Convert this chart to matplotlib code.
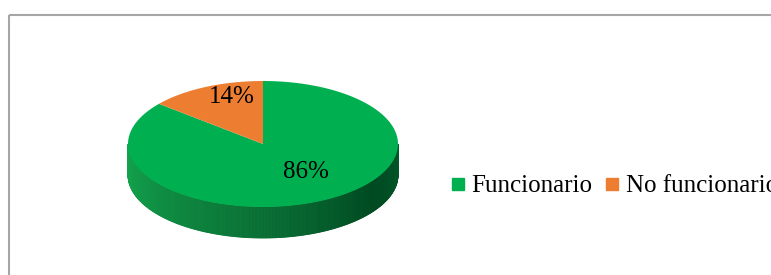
import matplotlib
matplotlib.use('Agg')
import matplotlib.pyplot as plt
from matplotlib.patches import Polygon, Rectangle
from matplotlib.lines import Line2D
import numpy as np

categories = ['Funcionario', 'No funcionario']
values = [86, 14]
pct_labels = ['86%', '14%']

top_colors = ['#00b050', '#ed7d31']
side_light = ['#14a54e', '#d86a20']
side_dark = ['#004a22', '#8a3a0a']

plt.rcParams['font.family'] = ['Liberation Serif', 'DejaVu Serif']

W, H = 771, 275
fig = plt.figure(figsize=(W / 100, H / 100), dpi=100)
ax = fig.add_axes([0, 0, 1, 1])
ax.set_xlim(0, W)
ax.set_ylim(H, 0)
ax.axis('off')

# chart border (right and bottom edges fall outside the picture)
ax.add_patch(Rectangle((8.5, 14.5), 900, 400, fill=False, ec='#a6a6a6', lw=1.5))

# pie geometry in pixels
cx, cy, a, b, depth = 263, 144, 135, 63, 31

fracs = np.array(values, dtype=float) / sum(values)
# slices go clockwise from 12 o'clock
starts = 90 - 360 * np.concatenate([[0], np.cumsum(fracs)[:-1]])
ends = starts - 360 * fracs


def pt(theta, dy=0):
    t = np.radians(theta)
    return cx + a * np.cos(t), cy - b * np.sin(t) + dy


def slice_of(theta):
    for i, (s, e) in enumerate(zip(starts, ends)):
        th = theta
        while th > s:
            th -= 360
        while th <= s - 360:
            th += 360
        if th >= e:
            return i
    return 0


def mix(c1, c2, t):
    c1 = np.array(matplotlib.colors.to_rgb(c1))
    c2 = np.array(matplotlib.colors.to_rgb(c2))
    return tuple(c1 + (c2 - c1) * t)


# front side of the disc
n = 360
ths = np.linspace(180, 360, n + 1)
for t0, t1 in zip(ths[:-1], ths[1:]):
    i = slice_of((t0 + t1) / 2)
    u = (t0 + 0.5 * (t1 - t0) - 180) / 180
    shade = min(1.0, u / 0.8) if u < 0.8 else 1.0 - (u - 0.8) * 0.6
    col = mix(side_light[i], side_dark[i], shade ** 1.1)
    p = [pt(t0), pt(t1), pt(t1, depth), pt(t0, depth)]
    ax.add_patch(Polygon(p, closed=True, fc=col, ec=col, lw=0.6))

# top face
for i, (s, e) in enumerate(zip(starts, ends)):
    th = np.linspace(s, e, 200)
    pts = [(cx, cy)] + [pt(t) for t in th]
    ax.add_patch(Polygon(pts, closed=True, fc=top_colors[i], ec='none'))

# percentage labels
label_pos = [(0.55, 10), (0.78, -8)]
for i, (s, e) in enumerate(zip(starts, ends)):
    r, shift = label_pos[i]
    m = np.radians((s + e) / 2 + shift)
    x = cx + r * a * np.cos(m)
    y = cy - r * b * np.sin(m)
    ax.text(x, y, pct_labels[i], fontsize=18, ha='center', va='center', color='black')

handles = [Line2D([0], [0], marker='s', ls='none', markersize=9,
                  markerfacecolor=c, markeredgecolor=c) for c in top_colors]
fig.legend(handles, categories, loc='center left', ncol=2, frameon=False,
           bbox_to_anchor=(450 / W, 1 - 186 / H), fontsize=18,
           handlelength=0.6, handletextpad=0.25, columnspacing=0.5,
           borderpad=0, borderaxespad=0)

fig.savefig('out.png', dpi=100)
